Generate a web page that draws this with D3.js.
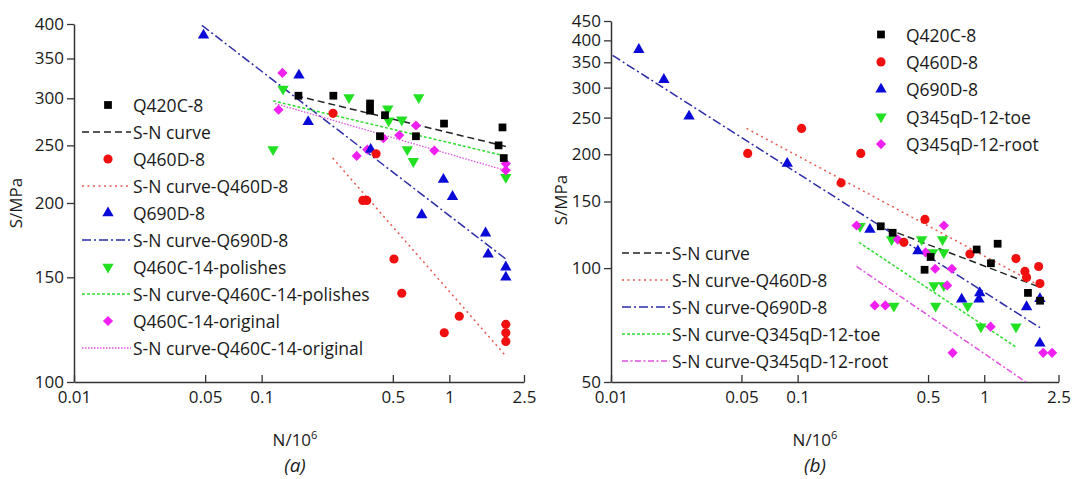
<!DOCTYPE html>
<html>
<head>
<meta charset="utf-8">
<script src="https://cdn.jsdelivr.net/npm/d3@7"></script>
<style>
  html, body { margin: 0; padding: 0; background: #fff; }
  svg { display: block; }
  text { font-family: "Open Sans", "Noto Sans", sans-serif; fill: #1a1a1a; }
</style>
</head>
<body>
<svg id="chart" width="1072" height="479"></svg>
<script>
// ---- shared tick labels ----
const nTicks = [0.01, 0.05, 0.1, 0.5, 1, 2.5];
const sTicksA = [100, 150, 200, 250, 300, 350, 400];
const sTicksB = [50, 100, 150, 200, 250, 300, 350, 400, 450];

// ---- panel (a): test data [N (10^6 cycles), S (MPa)] ----
const q420cA = [[0.157, 303], [0.241, 303], [0.378, 294], [0.378, 286], [0.454, 281], [0.427, 259],
  [0.664, 259], [0.937, 272], [1.92, 268], [1.83, 250], [1.95, 238]];
const q460dA = [[0.24, 283], [0.407, 242], [0.346, 202], [0.363, 202], [0.507, 161], [0.558, 141],
  [1.13, 129], [0.94, 121], [2.0, 125], [2.0, 121], [2.0, 117]];
const q690dA = [[0.049, 383], [0.158, 328], [0.177, 274], [0.381, 246], [0.93, 219], [1.04, 205],
  [0.713, 191], [1.56, 178], [1.61, 164], [2.0, 156], [2.0, 150]];
const q460cPolA = [[0.130, 311], [0.115, 246], [0.292, 301], [0.687, 301], [0.47, 288], [0.475, 275],
  [0.558, 276], [0.597, 246], [0.643, 235], [2.0, 221]];
const q460cOrigA = [[0.129, 331], [0.123, 287], [0.321, 240], [0.366, 246], [0.445, 257], [0.541, 260],
  [0.664, 270], [0.832, 245], [2.0, 233], [2.0, 227]];

// S-N curves (a): end points of each fitted line
const snQ420cA = [[0.153, 303], [2.0, 249]];
const snQ460dA = [[0.239, 238], [1.98, 111]];
const snQ690dA = [[0.048, 398], [2.0, 161]];
const snPolA = [[0.115, 297], [1.98, 240]];
const snOrigA = [[0.118, 294], [1.98, 227]];

// ---- panel (b): test data ----
const q420cB = [[0.279, 129], [0.323, 124], [0.516, 107], [0.479, 99], [0.911, 112], [1.086, 103],
  [1.18, 116], [1.715, 86], [1.99, 82]];
const q460dB = [[0.054, 201], [0.105, 234], [0.218, 201], [0.171, 168], [0.481, 134.5], [0.371, 117],
  [0.838, 109], [1.479, 106], [1.652, 98], [1.686, 94.5], [1.957, 101], [1.988, 91]];
const q690dB = [[0.0141, 378], [0.0192, 315], [0.0262, 252], [0.088, 189], [0.244, 126.5], [0.441, 111],
  [0.757, 82.7], [0.937, 82.7], [0.946, 86], [1.686, 79], [1.988, 83], [1.988, 63.3]];
const q345toeB = [[0.216, 129], [0.319, 119], [0.462, 119], [0.598, 119], [0.529, 110], [0.607, 110],
  [0.538, 90], [0.607, 90], [0.328, 79.4], [0.549, 79.4], [0.815, 79.4], [0.96, 70], [1.479, 70]];
const q345rootB = [[0.207, 129.6], [0.608, 129.6], [0.344, 119], [0.485, 110], [0.546, 99.6], [0.671, 99.6],
  [0.633, 90], [0.259, 79.7], [0.295, 79.7], [1.082, 70], [0.677, 59.7], [2.07, 59.7], [2.31, 59.7]];

// S-N curves (b)
const snB = [[0.266, 130], [1.99, 89]];
const snQ460dB = [[0.0533, 234], [1.97, 90]];
const snQ690dB = [[0.0102, 365], [1.99, 69.6]];
const snToeB = [[0.213, 117], [1.50, 61.6]];
const snRootB = [[0.207, 101], [1.67, 50]];

// ---- styles ----
const RED = "#f01010", BLUE = "#0a0ad8", GREEN = "#22e022", MAGENTA = "#f020f0", BLACK = "#000";
const markerShapes = {
  square: { type: d3.symbolSquare, size: 60, rot: 0 },
  circle: { type: d3.symbolCircle, size: 66, rot: 0 },
  up: { type: d3.symbolTriangle, size: 56, rot: 0 },
  down: { type: d3.symbolTriangle, size: 56, rot: 180 },
  diamond: { type: d3.symbolSquare, size: 52, rot: 45 }
};
const lineStyles = {
  black: { color: "#222", dash: "7,4", width: 1.5 },
  red: { color: "#e8584f", dash: "2,3.5", width: 1.5 },
  blue: { color: "#2b2ba8", dash: "9,3,2,3", width: 1.5 },
  green: { color: "#2ede2e", dash: "3,2", width: 1.5 },
  magentaDot: { color: "#e050e0", dash: "1.5,1.5", width: 1.3 },
  magentaDashDot: { color: "#e050e0", dash: "6,2.5,2,2.5", width: 1.5 }
};

const svg = d3.select("#chart");

function drawMarker(g, x, y, shape, color) {
  const m = markerShapes[shape];
  g.append("path")
    .attr("d", d3.symbol().type(m.type).size(m.size)())
    .attr("transform", `translate(${x},${y}) rotate(${m.rot})`)
    .attr("fill", color);
}

function drawPanel(cfg) {
  const x = d3.scaleLog().domain([0.01, 2.5]).range(cfg.xRange);
  const y = d3.scaleLog().domain(cfg.yDomain).range(cfg.yRange);
  const g = svg.append("g");

  // axes
  const xAxis = d3.axisBottom(x).tickValues(nTicks).tickFormat(d3.format("")).tickSizeInner(-7).tickSizeOuter(0).tickPadding(9);
  const xg = g.append("g").attr("transform", `translate(0,${cfg.yRange[0]})`).call(xAxis);
  const yAxis = d3.axisLeft(y).tickValues(cfg.yTicks).tickFormat(d3.format("")).tickSizeInner(7).tickSizeOuter(0).tickPadding(3);
  const yg = g.append("g").attr("transform", `translate(${cfg.xRange[0]},0)`).call(yAxis);
  [xg, yg].forEach(a => {
    a.select(".domain").attr("stroke", "#333").attr("stroke-width", 1.5);
    a.selectAll(".tick line").attr("stroke", "#333").attr("stroke-width", 1.3);
    a.selectAll(".tick text").style("font-size", "17px").style("font-family", "'Open Sans', sans-serif").attr("fill", "#1a1a1a");
  });

  // axis titles
  g.append("text")
    .attr("transform", `translate(${cfg.yTitleX},${cfg.yTitleY}) rotate(-90)`)
    .attr("text-anchor", "middle").attr("dominant-baseline", "middle")
    .style("font-size", "17px").text("S/MPa");
  const xt = g.append("text")
    .attr("x", cfg.xTitleX).attr("y", 446)
    .attr("text-anchor", "middle").style("font-size", "17px");
  xt.append("tspan").text("N/10");
  xt.append("tspan").attr("dy", -7).style("font-size", "11px").text("6");
  g.append("text")
    .attr("x", cfg.xTitleX).attr("y", 472)
    .attr("text-anchor", "middle").style("font-size", "19px").style("font-style", "italic")
    .text(cfg.tag);

  // fitted S-N lines
  const line = d3.line().x(d => x(d[0])).y(d => y(d[1]));
  cfg.curves.forEach(c => {
    const s = lineStyles[c.style];
    g.append("path").attr("d", line(c.data)).attr("fill", "none")
      .attr("stroke", s.color).attr("stroke-width", s.width).attr("stroke-dasharray", s.dash);
  });

  // test points
  cfg.series.forEach(sr => {
    sr.data.forEach(d => drawMarker(g, x(d[0]), y(d[1]), sr.shape, sr.color));
  });

  // legends
  cfg.legendMarkers.forEach((item, i) => {
    const ly = item.y0 + i * item.dy;
    drawMarker(g, item.mx, ly, item.shape, item.color);
    g.append("text").attr("x", item.tx).attr("y", ly).attr("dominant-baseline", "central")
      .style("font-size", "17.5px").text(item.label);
  });
  cfg.legendLines.forEach((item, i) => {
    const ly = item.y0 + i * item.dy;
    const s = lineStyles[item.style];
    g.append("line").attr("x1", item.x1).attr("x2", item.x2).attr("y1", ly).attr("y2", ly)
      .attr("stroke", s.color).attr("stroke-width", s.width).attr("stroke-dasharray", s.dash);
    g.append("text").attr("x", item.tx).attr("y", ly).attr("dominant-baseline", "central")
      .style("font-size", "17.5px").text(item.label);
  });
}

// ---- panel (a) ----
const legA = { y0: 105, dy: 27 };
drawPanel({
  xRange: [74, 524], yDomain: [100, 400], yRange: [382, 24], yTicks: sTicksA,
  yTitleX: 17, yTitleY: 203, xTitleX: 295, tag: "(a)",
  curves: [
    { data: snQ420cA, style: "black" },
    { data: snQ460dA, style: "red" },
    { data: snQ690dA, style: "blue" },
    { data: snPolA, style: "green" },
    { data: snOrigA, style: "magentaDot" }
  ],
  series: [
    { data: q460cPolA, shape: "down", color: GREEN },
    { data: q460cOrigA, shape: "diamond", color: MAGENTA },
    { data: q690dA, shape: "up", color: BLUE },
    { data: q460dA, shape: "circle", color: RED },
    { data: q420cA, shape: "square", color: BLACK }
  ],
  legendMarkers: [
    { label: "Q420C-8", shape: "square", color: BLACK, k: 0 },
    { label: "Q460D-8", shape: "circle", color: RED, k: 2 },
    { label: "Q690D-8", shape: "up", color: BLUE, k: 4 },
    { label: "Q460C-14-polishes", shape: "down", color: GREEN, k: 6 },
    { label: "Q460C-14-original", shape: "diamond", color: MAGENTA, k: 8 }
  ].map(o => ({ ...o, mx: 108, tx: 133, y0: legA.y0 + o.k * legA.dy, dy: 0 })),
  legendLines: [
    { label: "S-N curve", style: "black", k: 1 },
    { label: "S-N curve-Q460D-8", style: "red", k: 3 },
    { label: "S-N curve-Q690D-8", style: "blue", k: 5 },
    { label: "S-N curve-Q460C-14-polishes", style: "green", k: 7 },
    { label: "S-N curve-Q460C-14-original", style: "magentaDot", k: 9 }
  ].map(o => ({ ...o, x1: 82, x2: 131, tx: 133, y0: legA.y0 + o.k * legA.dy, dy: 0 }))
});

// ---- panel (b) ----
drawPanel({
  xRange: [611, 1058.5], yDomain: [50, 450], yRange: [382, 21], yTicks: sTicksB,
  yTitleX: 562, yTitleY: 200, xTitleX: 815, tag: "(b)",
  curves: [
    { data: snB, style: "black" },
    { data: snQ460dB, style: "red" },
    { data: snQ690dB, style: "blue" },
    { data: snToeB, style: "green" },
    { data: snRootB, style: "magentaDashDot" }
  ],
  series: [
    { data: q345toeB, shape: "down", color: GREEN },
    { data: q345rootB, shape: "diamond", color: MAGENTA },
    { data: q690dB, shape: "up", color: BLUE },
    { data: q460dB, shape: "circle", color: RED },
    { data: q420cB, shape: "square", color: BLACK }
  ],
  legendMarkers: [
    { label: "Q420C-8", shape: "square", color: BLACK },
    { label: "Q460D-8", shape: "circle", color: RED },
    { label: "Q690D-8", shape: "up", color: BLUE },
    { label: "Q345qD-12-toe", shape: "down", color: GREEN },
    { label: "Q345qD-12-root", shape: "diamond", color: MAGENTA }
  ].map(o => ({ ...o, mx: 881, tx: 906, y0: 34.5, dy: 27.4 })),
  legendLines: [
    { label: "S-N curve", style: "black" },
    { label: "S-N curve-Q460D-8", style: "red" },
    { label: "S-N curve-Q690D-8", style: "blue" },
    { label: "S-N curve-Q345qD-12-toe", style: "green" },
    { label: "S-N curve-Q345qD-12-root", style: "magentaDashDot" }
  ].map(o => ({ ...o, x1: 622, x2: 670, tx: 672, y0: 253, dy: 27 }))
});
</script>
</body>
</html>
